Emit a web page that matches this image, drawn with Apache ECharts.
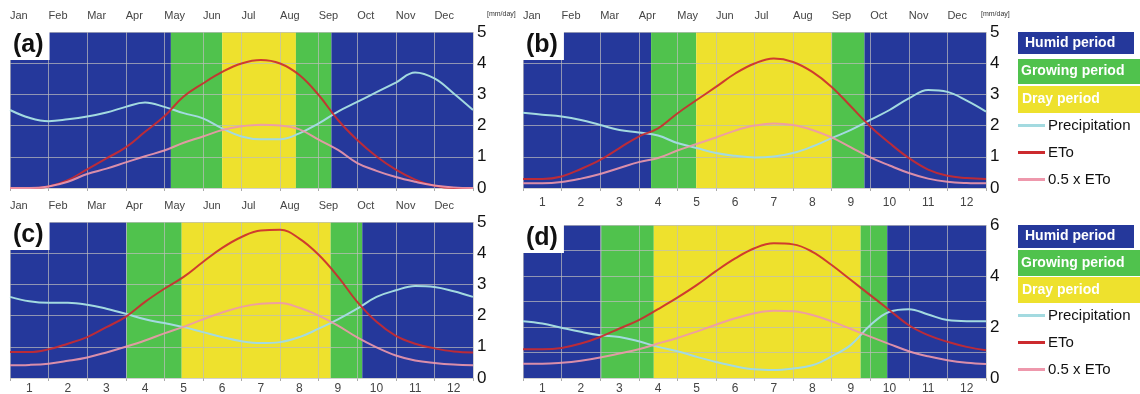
<!DOCTYPE html>
<html>
<head>
<meta charset="utf-8">
<script src="https://cdn.jsdelivr.net/npm/echarts@6/dist/echarts.min.js"></script>
<style>
  html, body { margin: 0; padding: 0; background: #fff; }
  #main { width: 1140px; height: 394px; }
</style>
</head>
<body>
<div id="main"></div>
<script>
var months = ['Jan', 'Feb', 'Mar', 'Apr', 'May', 'Jun', 'Jul', 'Aug', 'Sep', 'Oct', 'Nov', 'Dec'];
var monthNums = ['1', '2', '3', '4', '5', '6', '7', '8', '9', '10', '11', '12'];
// read positions (in months from Jan 1st)
var xs = [0, 0.5, 1, 1.5, 2, 2.5, 3, 3.5, 4, 4.5, 5, 5.5, 6, 6.5, 7, 7.5, 8, 8.5, 9, 9.5, 10, 10.5, 11, 11.5, 12];

// (a)
var precipA = [2.5, 2.25, 2.14, 2.2, 2.29, 2.42, 2.6, 2.74, 2.6, 2.4, 2.23, 1.91, 1.65, 1.56, 1.56, 1.75, 2.07, 2.45, 2.76, 3.07, 3.38, 3.7, 3.51, 3.03, 2.5];
var etoA = [0, 0, 0.05, 0.25, 0.6, 0.95, 1.3, 1.8, 2.3, 2.93, 3.35, 3.72, 3.99, 4.1, 3.99, 3.62, 2.98, 2.18, 1.54, 1.01, 0.59, 0.27, 0.07, 0, 0];
var halfEtoA = [0, 0, 0.05, 0.2, 0.45, 0.62, 0.82, 1.02, 1.2, 1.45, 1.65, 1.86, 1.98, 2.03, 2.0, 1.88, 1.55, 1.22, 0.8, 0.55, 0.35, 0.2, 0.08, 0.02, 0];
// (b)
var precipB = [2.41, 2.35, 2.29, 2.18, 2.02, 1.86, 1.78, 1.68, 1.44, 1.28, 1.12, 1.03, 0.98, 1.01, 1.12, 1.33, 1.6, 1.86, 2.18, 2.5, 2.87, 3.14, 3.08, 2.8, 2.45];
var etoB = [0.29, 0.29, 0.37, 0.61, 0.9, 1.28, 1.65, 1.91, 2.39, 2.82, 3.24, 3.67, 3.99, 4.15, 4.04, 3.72, 3.24, 2.61, 1.97, 1.44, 0.96, 0.59, 0.39, 0.32, 0.29];
var halfEtoB = [0.15, 0.15, 0.19, 0.3, 0.45, 0.64, 0.83, 0.96, 1.2, 1.41, 1.62, 1.84, 2.0, 2.07, 2.02, 1.86, 1.62, 1.3, 0.98, 0.72, 0.48, 0.3, 0.2, 0.16, 0.15];
// (c)
var precipC = [2.6, 2.46, 2.41, 2.41, 2.35, 2.22, 2.06, 1.88, 1.76, 1.63, 1.47, 1.31, 1.18, 1.12, 1.15, 1.31, 1.58, 1.88, 2.22, 2.6, 2.81, 2.95, 2.92, 2.78, 2.6];
var etoC = [0.83, 0.83, 0.92, 1.1, 1.31, 1.63, 1.96, 2.44, 2.86, 3.24, 3.72, 4.17, 4.52, 4.73, 4.75, 4.47, 3.95, 3.25, 2.44, 1.8, 1.35, 1.1, 0.95, 0.85, 0.82];
var halfEtoC = [0.41, 0.42, 0.46, 0.55, 0.66, 0.82, 1.0, 1.2, 1.43, 1.64, 1.88, 2.1, 2.28, 2.38, 2.4, 2.25, 2.0, 1.68, 1.3, 0.98, 0.72, 0.56, 0.48, 0.43, 0.41];
// (d)
var precipD = [2.23, 2.14, 1.97, 1.81, 1.68, 1.61, 1.44, 1.22, 1.05, 0.83, 0.63, 0.46, 0.34, 0.31, 0.37, 0.5, 0.85, 1.3, 2.07, 2.6, 2.7, 2.49, 2.27, 2.23, 2.23];
var etoD = [1.13, 1.13, 1.18, 1.35, 1.61, 1.94, 2.27, 2.7, 3.15, 3.64, 4.19, 4.69, 5.09, 5.28, 5.24, 4.95, 4.43, 3.84, 3.25, 2.66, 2.07, 1.68, 1.42, 1.22, 1.09];
var halfEtoD = [0.56, 0.56, 0.6, 0.68, 0.8, 0.96, 1.13, 1.35, 1.57, 1.82, 2.09, 2.34, 2.54, 2.64, 2.62, 2.47, 2.22, 1.92, 1.62, 1.33, 1.05, 0.85, 0.7, 0.6, 0.55];

// period edges: humid | growing | dry | growing | humid
var bandsA = [4.17, 5.5, 7.41, 8.33];
var bandsB = [3.32, 4.49, 8.01, 8.85];
var bandsC = [3.02, 4.45, 8.31, 9.13];
var bandsD = [2.03, 3.39, 8.75, 9.44];

var HUMID = '#25389b', GROW = '#50c24d', DRY = '#eee12d';
var GRIDC = 'rgba(190,190,190,0.7)';
var FONT = '"Liberation Sans", Arial, sans-serif';

var panels = [
  {tag: '(a)', left: 10, top: 32, height: 156, ymax: 5, step: 1, bands: bandsA, p: precipA, e: etoA, h: halfEtoA, months: true, nums: false, numMargin: 8, unitX: 487},
  {tag: '(b)', left: 523, top: 32, height: 156, ymax: 5, step: 1, bands: bandsB, p: precipB, e: etoB, h: halfEtoB, months: true, nums: true, numMargin: 9, unitX: 981},
  {tag: '(c)', left: 10, top: 222, height: 156, ymax: 5, step: 1, bands: bandsC, p: precipC, e: etoC, h: halfEtoC, months: true, nums: true, numMargin: 5},
  {tag: '(d)', left: 523, top: 225, height: 153, ymax: 6, step: 2, bands: bandsD, p: precipD, e: etoD, h: halfEtoD, months: false, nums: true, numMargin: 5}
];

function pairs(vals) {
  return xs.map(function (x, i) { return [x, vals[i]]; });
}

var grid = [], xAxis = [], yAxis = [], series = [], title = [];

panels.forEach(function (pn, i) {
  grid.push({left: pn.left, top: pn.top, width: 463, height: pn.height, outerBoundsMode: 'none'});
  xAxis.push({
    gridIndex: i, type: 'value', position: 'top', min: 0, max: 12, interval: 1, z: 3,
    axisLine: {show: false}, axisTick: {show: false},
    splitLine: {show: true, lineStyle: {color: GRIDC, width: 1}},
    axisLabel: {
      show: pn.months, align: 'left', margin: 11, fontSize: 11, color: '#444',
      fontFamily: '"Liberation Sans Narrow", "Liberation Sans", sans-serif',
      formatter: function (v) { return months[v] || ''; }
    }
  });
  xAxis.push({
    gridIndex: i, type: 'category', position: 'bottom', data: monthNums, boundaryGap: true,
    axisLine: {show: false}, axisTick: {show: true, length: 3, lineStyle: {color: '#aaa'}},
    splitLine: {show: false},
    axisLabel: {show: pn.nums, margin: pn.numMargin, fontSize: 12, color: '#444', fontFamily: FONT}
  });
  yAxis.push({
    gridIndex: i, type: 'value', position: 'right', min: 0, max: pn.ymax, interval: 1, z: 3,
    axisLine: {show: false}, axisTick: {show: false},
    splitLine: {lineStyle: {color: GRIDC, width: 1}},
    axisLabel: {
      margin: 4, fontSize: 17, color: '#111', fontFamily: FONT,
      formatter: function (v) { return v % pn.step === 0 ? String(v) : ''; }
    }
  });
  title.push({
    text: pn.tag, left: pn.left, top: pn.top, backgroundColor: '#fff', padding: [1, 6, 2, 3],
    textStyle: {fontSize: 25, fontWeight: 'bold', color: '#111', fontFamily: FONT}
  });
  if (pn.unitX) {
    title.push({
      text: '[mm/day]', left: pn.unitX, top: 11, padding: 0,
      textStyle: {fontSize: 7, fontWeight: 'normal', color: '#333', fontFamily: FONT}
    });
  }

  var b = pn.bands;
  var xi = i * 2;
  series.push({
    type: 'line', xAxisIndex: xi, yAxisIndex: i, data: [], z: 1, silent: true,
    markArea: {
      silent: true, label: {show: false},
      data: [
        [{xAxis: 0, itemStyle: {color: HUMID, opacity: 1}}, {xAxis: b[0]}],
        [{xAxis: b[0], itemStyle: {color: GROW, opacity: 1}}, {xAxis: b[1]}],
        [{xAxis: b[1], itemStyle: {color: DRY, opacity: 1}}, {xAxis: b[2]}],
        [{xAxis: b[2], itemStyle: {color: GROW, opacity: 1}}, {xAxis: b[3]}],
        [{xAxis: b[3], itemStyle: {color: HUMID, opacity: 1}}, {xAxis: 12}]
      ]
    }
  });
  series.push({
    name: 'Precipitation', type: 'line', xAxisIndex: xi, yAxisIndex: i, z: 4,
    smooth: 0.4, symbol: 'none', data: pairs(pn.p),
    itemStyle: {color: '#a3dae0'}, lineStyle: {color: '#a3dae0', width: 2}
  });
  series.push({
    name: 'ETo', type: 'line', xAxisIndex: xi, yAxisIndex: i, z: 4,
    smooth: 0.4, symbol: 'none', data: pairs(pn.e),
    itemStyle: {color: '#cc2a2e'}, lineStyle: {color: '#cc2a2e', width: 2, opacity: 0.9}
  });
  series.push({
    name: '0.5 x ETo', type: 'line', xAxisIndex: xi, yAxisIndex: i, z: 4,
    smooth: 0.4, symbol: 'none', data: pairs(pn.h),
    itemStyle: {color: '#ee98ac'}, lineStyle: {color: '#ee98ac', width: 2, opacity: 0.9}
  });
});

var lineNames = ['Precipitation', 'ETo', '0.5 x ETo'];
function lineLegend(top) {
  return {
    orient: 'vertical', left: 1018, top: top, padding: 0,
    icon: 'rect', itemWidth: 27, itemHeight: 3, itemGap: 12,
    textStyle: {fontSize: 15, color: '#111', fontFamily: FONT, padding: [0, 0, 0, -2]},
    data: lineNames
  };
}

// coloured period boxes of the key
function keyBox(y, h, w, color, text, tx) {
  return {
    type: 'group', children: [
      {type: 'rect', shape: {x: 1018, y: y, width: w, height: h}, style: {fill: color}},
      {type: 'text', style: {x: tx, y: y + h / 2, text: text, fill: '#fff',
        font: 'bold 14px "Liberation Sans", Arial, sans-serif', verticalAlign: 'middle'}}
    ]
  };
}

var option = {
  animation: false,
  backgroundColor: '#fff',
  textStyle: {fontFamily: FONT},
  title: title,
  grid: grid,
  xAxis: xAxis,
  yAxis: yAxis,
  legend: [lineLegend(118), lineLegend(308)],
  graphic: [
    keyBox(32, 22, 116, HUMID, 'Humid period', 1025),
    keyBox(59, 25, 122, GROW, 'Growing period', 1021),
    keyBox(86, 27, 122, DRY, 'Dray period', 1022),
    keyBox(225, 23, 116, HUMID, 'Humid period', 1025),
    keyBox(250, 26, 122, GROW, 'Growing period', 1021),
    keyBox(277, 26, 122, DRY, 'Dray period', 1022)
  ],
  series: series
};

var chart = echarts.init(document.getElementById('main'));
chart.setOption(option);
</script>
</body>
</html>
